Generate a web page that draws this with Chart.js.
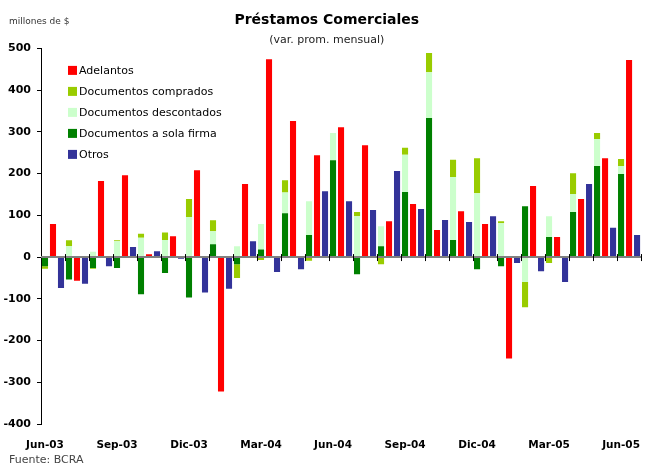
<!DOCTYPE html>
<html>
<head>
<meta charset="utf-8">
<script src="https://cdn.jsdelivr.net/npm/chart.js@4.4.1/dist/chart.umd.min.js"></script>
<style>
  html, body { margin: 0; padding: 0; background: #fff; }
</style>
</head>
<body>
<canvas id="prestamos" width="655" height="465"></canvas>
<script>
// meses (var. prom. mensual, millones de $)
const meses = ['Jun-03', 'Jul-03', 'Ago-03', 'Sep-03', 'Oct-03', 'Nov-03', 'Dic-03', 'Ene-04', 'Feb-04',
  'Mar-04', 'Abr-04', 'May-04', 'Jun-04', 'Jul-04', 'Ago-04', 'Sep-04', 'Oct-04', 'Nov-04', 'Dic-04',
  'Ene-05', 'Feb-05', 'Mar-05', 'Abr-05', 'May-05', 'Jun-05'];
const adelantos = [79, -57, 182, 196, 7, 50, 208, -322, 175, 474, 326, 244, 311, 268, 86, 127, 65, 110, 79, -243, 170, 48, 139, 237, 472];
const docComprados = [-6, 14, -2, 2, 10, 18, 43, 26, -33, -7, 29, -9, 0, 10, -17, 17, 46, 41, 84, 5, -60, -14, 50, 14, 17];
const docDescontados = [2, 26, 13, 38, 46, 41, 96, 31, 26, 61, 50, 81, 65, 98, 48, 89, 110, 151, 153, 81, -60, 50, 43, 65, 19];
const docSolaFirma = [-22, -54, -26, -26, -89, -38, -97, 31, -17, 18, 105, 53, 232, -41, 26, 156, 333, 41, -29, -22, 122, 48, 108, 218, 199];
const otros = [-74, -64, -22, 24, 14, -4, -85, -76, 38, -36, -29, 158, 134, 113, 206, 115, 89, 84, 98, -14, -34, -60, 175, 70, 53];
const ordenLeyenda = ['Adelantos', 'Documentos comprados', 'Documentos descontados', 'Documentos a sola firma', 'Otros'];

Chart.defaults.font.family = 'DejaVu Sans';
Chart.defaults.color = '#000';

// textos sueltos, leyenda y eje del cero
const extras = {
  id: 'extras',
  afterDatasetsDraw(chart) {
    const ctx = chart.ctx;
    const x = chart.scales.x, y = chart.scales.y;
    const y0 = y.getPixelForValue(0);
    ctx.save();
    ctx.strokeStyle = '#808080';
    ctx.lineWidth = 2;
    ctx.beginPath();
    ctx.moveTo(chart.chartArea.left, y0);
    ctx.lineTo(chart.chartArea.right, y0);
    ctx.stroke();
    ctx.strokeStyle = '#000';
    ctx.lineWidth = 1;
    for (let i = 1; i <= meses.length; i++) {
      const px = Math.round(x.getPixelForValue(i - 0.5)) + 0.5;
      ctx.beginPath();
      ctx.moveTo(px, y0 - 3);
      ctx.lineTo(px, y0 + 4);
      ctx.stroke();
    }
    ctx.restore();
  },
  afterDraw(chart) {
    const ctx = chart.ctx;
    const area = chart.chartArea;
    ctx.save();
    ctx.textBaseline = 'middle';
    ctx.textAlign = 'left';
    ctx.fillStyle = '#333';
    ctx.font = '9px "DejaVu Sans"';
    ctx.fillText('millones de $', 9, 22);
    ctx.fillStyle = '#444';
    ctx.font = '11px "DejaVu Sans"';
    ctx.fillText('Fuente: BCRA', 9, 460);

    ordenLeyenda.forEach((label, i) => {
      const ds = chart.data.datasets.find(d => d.label === label);
      const cy = area.top + 22 + i * 21;
      ctx.fillStyle = ds.backgroundColor;
      ctx.fillRect(area.left + 27, cy - 4.5, 9, 9);
      ctx.fillStyle = '#000';
      ctx.font = '11px "DejaVu Sans"';
      ctx.fillText(label, area.left + 38, cy + 0.5);
    });
    ctx.restore();
  }
};

new Chart(document.getElementById('prestamos'), {
  type: 'bar',
  data: {
    labels: meses,
    datasets: [
      { label: 'Documentos a sola firma', data: docSolaFirma, backgroundColor: '#008000', stack: 'doc' },
      { label: 'Documentos descontados', data: docDescontados, backgroundColor: '#CCFFCC', stack: 'doc' },
      { label: 'Documentos comprados', data: docComprados, backgroundColor: '#99CC00', stack: 'doc' },
      { label: 'Adelantos', data: adelantos, backgroundColor: '#FF0000', stack: 'ade' },
      { label: 'Otros', data: otros, backgroundColor: '#333399', stack: 'otr' }
    ]
  },
  options: {
    responsive: false,
    animation: false,
    categoryPercentage: 1.0,
    barPercentage: 0.76,
    layout: { padding: { top: 0, left: 0, right: 1.5, bottom: 0 } },
    plugins: {
      legend: { display: false },
      tooltip: { enabled: false },
      title: {
        display: true,
        text: 'Préstamos Comerciales',
        font: { size: 14, weight: 'bold' },
        padding: { top: 12, bottom: 0 }
      },
      subtitle: {
        display: true,
        text: '(var. prom. mensual)',
        font: { size: 11 },
        color: '#222',
        padding: { top: 5, bottom: 1.4 }
      }
    },
    scales: {
      x: {
        stacked: true,
        grid: { display: false },
        border: { display: false },
        ticks: {
          autoSkip: false,
          maxRotation: 0,
          padding: 7,
          labelOffset: -8,
          font: { size: 10.5, weight: 'bold' },
          callback: (v, i) => (i % 3 === 0 ? meses[i] : '')
        },
        afterFit: s => { s.height = 41; }
      },
      y: {
        stacked: true,
        min: -400,
        max: 500,
        ticks: { stepSize: 100, padding: 6, font: { size: 11, weight: 'bold' } },
        grid: { drawOnChartArea: false, tickLength: 4, tickColor: '#000', tickWidth: 1 },
        border: { display: true, color: '#000', width: 1 },
        afterFit: s => { s.width = 41; }
      }
    }
  },
  plugins: [extras]
});
</script>
</body>
</html>
